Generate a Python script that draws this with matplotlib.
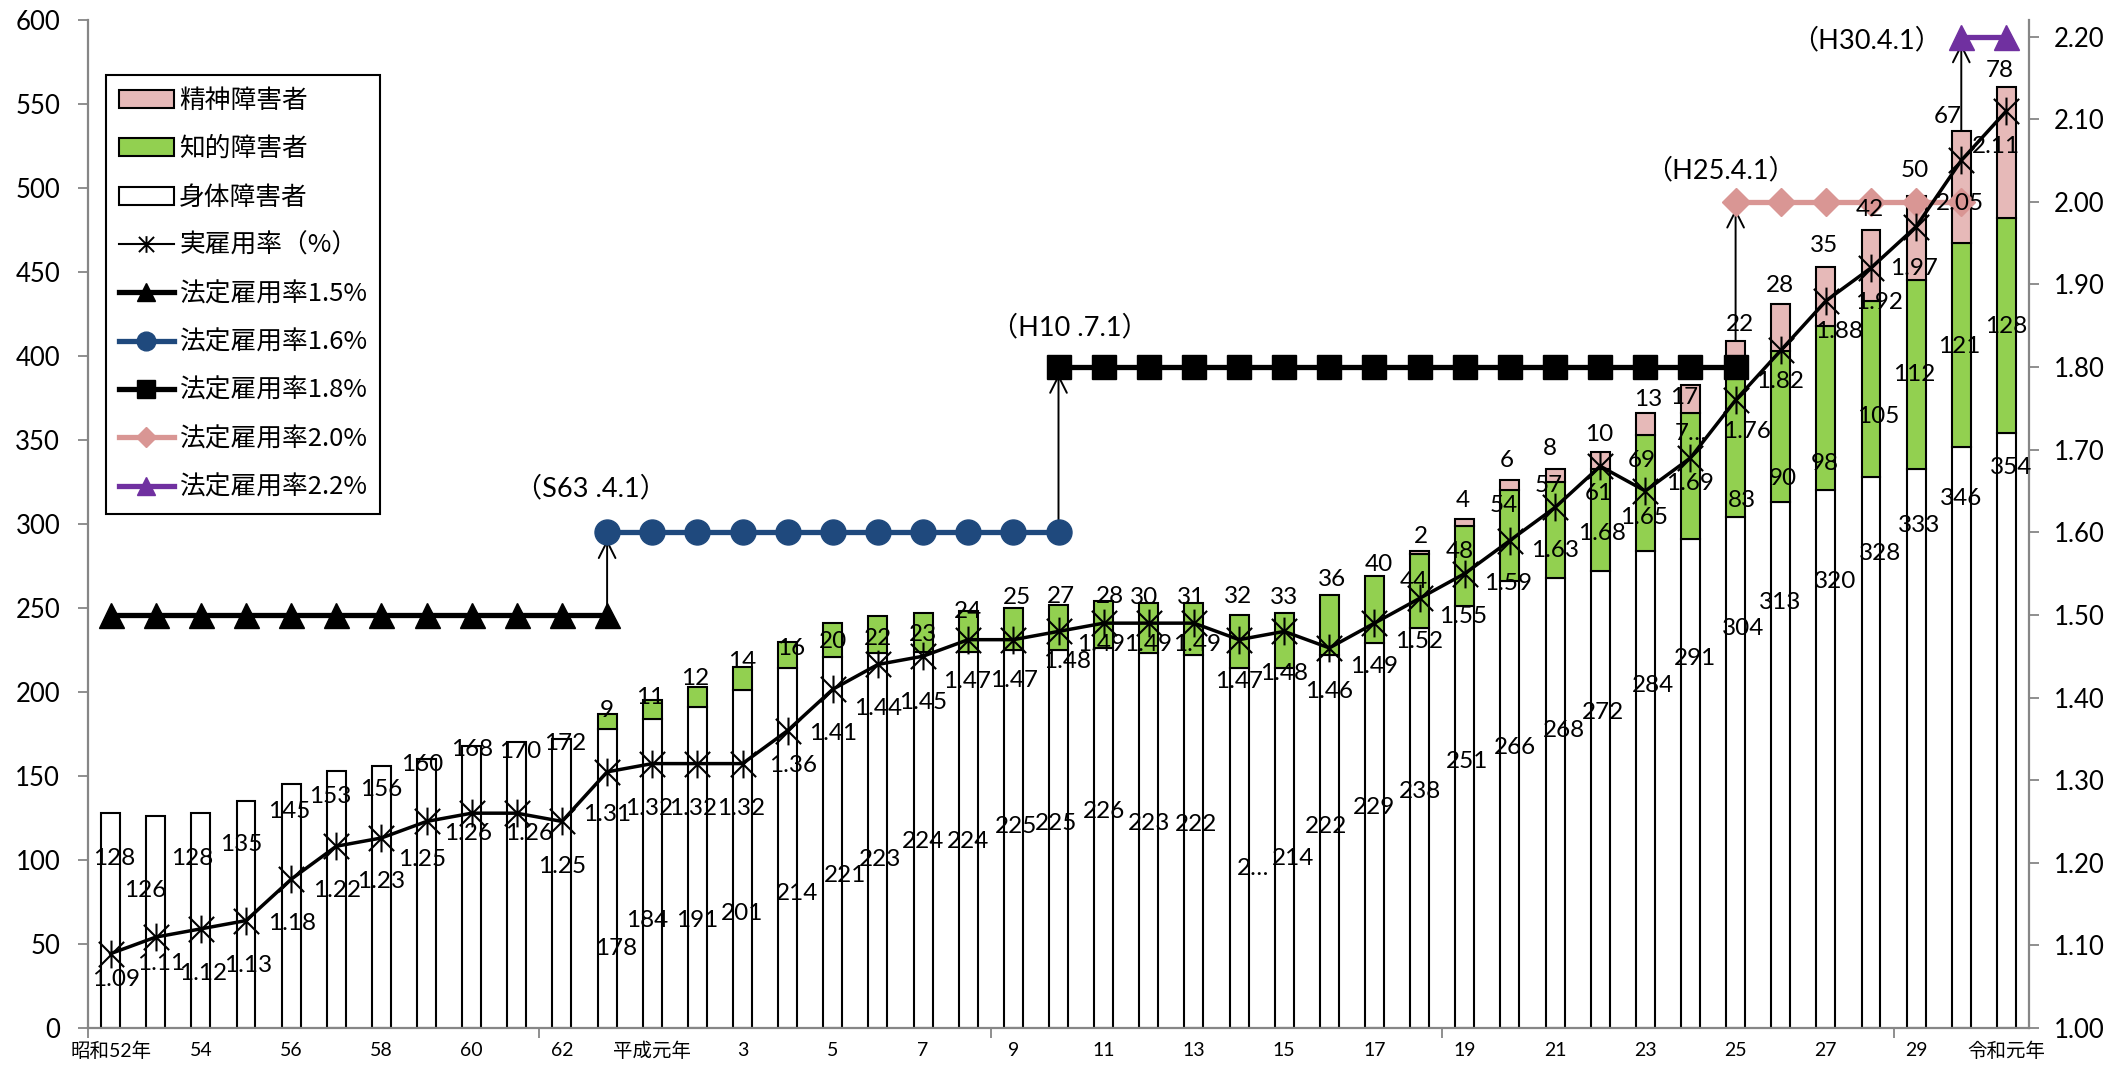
import matplotlib
matplotlib.use("Agg")
import matplotlib.pyplot as plt
import numpy as np
from matplotlib.path import Path
from matplotlib.lines import Line2D
from matplotlib.patches import Patch

plt.rcParams['font.family'] = ['Lato', 'Noto Sans CJK JP', 'DejaVu Sans']

# 雇用障害者数（千人）と実雇用率
years = (["昭和52年"] + [str(y) for y in range(53, 64)]
         + ["平成元年"] + [str(y) for y in range(2, 31)] + ["令和元年"])
body = [128, 126, 128, 135, 145, 153, 156, 160, 168, 170, 172,
        178, 184, 191, 201, 214, 221, 223, 224, 224, 225, 225, 226, 223, 222,
        214, 214, 222, 229, 238, 251, 266, 268, 272, 284, 291, 304, 313, 320,
        328, 333, 346, 354]
intellect = [0] * 11 + [9, 11, 12, 14, 16, 20, 22, 23, 24, 25, 27, 28, 30, 31,
                        32, 33, 36, 40, 44, 48, 54, 57, 61, 69, 75, 83, 90, 98,
                        105, 112, 121, 128]
mental = [0] * 29 + [2, 4, 6, 8, 10, 13, 17, 22, 28, 35, 42, 50, 67, 78]
rate = [1.09, 1.11, 1.12, 1.13, 1.18, 1.22, 1.23, 1.25, 1.26, 1.26, 1.25,
        1.31, 1.32, 1.32, 1.32, 1.36, 1.41, 1.44, 1.45, 1.47, 1.47, 1.48, 1.49,
        1.49, 1.49, 1.47, 1.48, 1.46, 1.49, 1.52, 1.55, 1.59, 1.63, 1.68, 1.65,
        1.69, 1.76, 1.82, 1.88, 1.92, 1.97, 2.05, 2.11]

# 法定雇用率の推移（開始・終了はカテゴリ番号）
legal_rate = [1.5, 1.6, 1.8, 2.0, 2.2]
legal_start = [0, 11, 21, 36, 41]
legal_end = [11, 21, 36, 41, 42]
legal_names = ["法定雇用率1.5%", "法定雇用率1.6%", "法定雇用率1.8%",
               "法定雇用率2.0%", "法定雇用率2.2%"]
change_dates = ["（S63 .4.1）", "（H10 .7.1）", "（H25.4.1）", "（H30.4.1）"]

# 省略表示されたラベル
short_body = {25: "2…"}
short_intellect = {35: "7…"}

# ラベル位置（左軸の値）と横ずれ（カテゴリ幅単位）
body_lab_y = [101, 82, 101, 109, 129, 138, 142, 157, 165.5, 164.5, 169.4,
              47.4, 64, 64, 68, 80, 91, 100, 111, 111, 120, 122, 129, 122, 121,
              95, 101, 120, 131, 141, 158.5, 167, 177, 188, 204, 220, 238, 253,
              266, 282.5, 299, 315, 333.6]
body_lab_dx = [0.07, -0.24, -0.2, -0.11, -0.04, -0.13, 0, -0.1, 0, 0.07, 0.06,
               0.2, -0.11, 0, 0, 0.2, 0.27, 0.05, 0, 0, 0.06, -0.05, 0, 0, 0.05,
               0.3, 0.2, -0.08, 0, 0, 0.05, 0.12, 0.2, 0.06, 0.17, 0.1, 0.16,
               -0.02, 0.2, 0.2, 0.06, 0, 0.1]
int_lab_y = [189, 197, 208, 218, 226, 230, 232, 234, 248, 256, 257, 257, 256,
             256, 256.7, 256, 266.7, 275.6, 265.7, 283.5, 311, 323, 318, 338,
             354, 314, 327, 336, 364, 388.7, 405.5, 417.5]
int_lab_dx = [0, -0.05, -0.05, 0, 0.08, 0, 0, 0, 0, 0.07, 0.05, 0.14, -0.1,
              -0.07, -0.02, 0, 0.05, 0.09, -0.12, -0.1, -0.14, -0.15, -0.02,
              -0.07, 0, 0.14, 0.04, -0.02, 0.17, -0.04, -0.04, -0.01]
men_lab_y = [292.5, 314, 338, 345, 353, 374, 375, 418.5, 442, 466, 487, 510.7,
             542.5, 570]
men_lab_dx = [0.03, -0.04, -0.06, -0.12, -0.02, 0.07, -0.14, 0.1, -0.02, -0.03,
              -0.03, -0.04, -0.31, -0.15]
rate_lab_y = [28.6, 38.5, 32.5, 37.5, 62.3, 82, 87, 100, 116, 116, 96,
              126.8, 130.8, 130.8, 130.8, 156.5, 175.4, 190.3, 194, 206, 207,
              218, 228, 228, 228, 206, 211, 200, 215, 230, 245, 264.7, 284.5,
              294.4, 304, 324, 355, 384.7, 414.5, 432, 452, 491, 524.6]
rate_lab_dx = [0.12, 0.11, 0.05, 0.04, 0.03, 0.02, 0, -0.1, -0.07, 0.27, 0,
               0, -0.07, -0.1, -0.03, 0.12, 0.01, 0, -0.01, -0.02, 0.02, 0.2,
               -0.06, -0.02, 0.07, 0, 0, 0, -0.01, -0.02, -0.04, -0.04, 0, 0.03,
               -0.03, 0, 0.25, -0.02, 0.29, 0.17, -0.04, -0.03, -0.23]
date_lab_x = [10.65, 21.25, 35.67, 38.9]
date_lab_y = [321, 416.7, 510.7, 588]

PINK = '#E6B9B8'
GREEN = '#92D050'
GRAY = '#868686'
legal_styles = [
    dict(color='black', marker='^', mfc='black', mec='black'),
    dict(color='#1F497D', marker='o', mfc='#1F497D', mec='#1F497D'),
    dict(color='black', marker='s', mfc='black', mec='black'),
    dict(color='#D99694', marker='D', mfc='#D99694', mec='#D99694'),
    dict(color='#7030A0', marker='^', mfc='#7030A0', mec='#7030A0'),
]
legal_ms = [18, 18, 17, 14, 18]

# アスタリスク型マーカー（× と縦線）
star = Path([(-1, -1), (1, 1), (-1, 1), (1, -1), (0, -1.1), (0, 1.1)],
            [Path.MOVETO, Path.LINETO, Path.MOVETO, Path.LINETO,
             Path.MOVETO, Path.LINETO])

x = np.arange(len(years))
body = np.array(body)
intellect = np.array(intellect)
mental = np.array(mental)

fig = plt.figure(figsize=(21.25, 10.65), dpi=100)
ax = fig.add_axes([88 / 2125, 37 / 1065, 1941 / 2125, 1008 / 1065])
ax2 = ax.twinx()

W = 0.42
ax.bar(x, body, W, color='white', edgecolor='black', linewidth=1.5, zorder=2)
m = intellect > 0
ax.bar(x[m], intellect[m], W, bottom=body[m], color=GREEN, edgecolor='black',
       linewidth=1.5, zorder=2)
m = mental > 0
ax.bar(x[m], mental[m], W, bottom=(body + intellect)[m], color=PINK,
       edgecolor='black', linewidth=1.5, zorder=2)

ax.set_xlim(-0.5, len(years) - 0.5)
ax.set_ylim(0, 600)
ax.set_yticks(np.arange(0, 601, 50))
ax2.set_ylim(1.0, 2.22)
ax2.set_yticks(np.round(np.arange(1.0, 2.21, 0.1), 2))
ax2.set_yticklabels([f"{v:.2f}" for v in np.arange(1.0, 2.21, 0.1)])

# 法定雇用率と改定時の矢印
for i, r in enumerate(legal_rate):
    xs = np.arange(legal_start[i], legal_end[i] + 1)
    ax2.plot(xs, np.full(len(xs), r), lw=3.8, ms=legal_ms[i], zorder=3,
             **legal_styles[i])
for i in range(1, len(legal_rate)):
    xa = legal_start[i]
    ax.annotate('', xy=(xa, legal_rate[i]), xytext=(xa, legal_rate[i - 1]),
                xycoords=ax2.transData, textcoords=ax2.transData,
                arrowprops=dict(arrowstyle='->,head_length=0.6,head_width=0.3',
                                color='black', lw=1.4, shrinkA=0, shrinkB=5,
                                mutation_scale=20),
                zorder=1.5)
    ax2.text(date_lab_x[i - 1], date_lab_y[i - 1], change_dates[i - 1],
             transform=ax.transData, ha='center', va='center', fontsize=19.5,
             zorder=6)

# 実雇用率
ax2.plot(x, rate, color='black', lw=2.5, marker=star, ms=20, mew=1.5,
         mfc='none', mec='black', zorder=4)

# データラベル
lab_kw = dict(transform=ax.transData, ha='center', va='center', fontsize=17.5,
              zorder=7)
for i in x:
    ax2.text(i + body_lab_dx[i], body_lab_y[i], short_body.get(i, str(body[i])),
             **lab_kw)
    ax2.text(i + rate_lab_dx[i], rate_lab_y[i], f"{rate[i]:.2f}", **lab_kw)
k = 0
for i in x[intellect > 0]:
    ax2.text(i + int_lab_dx[k], int_lab_y[k],
             short_intellect.get(i, str(intellect[i])), **lab_kw)
    k += 1
k = 0
for i in x[mental > 0]:
    ax2.text(i + men_lab_dx[k], men_lab_y[k], str(mental[i]), **lab_kw)
    k += 1

# 軸の体裁
for a in (ax, ax2):
    a.spines['top'].set_visible(False)
    for s in ('left', 'right', 'bottom'):
        a.spines[s].set_color(GRAY)
        a.spines[s].set_linewidth(1.6)
ax.spines['right'].set_visible(False)
ax2.spines['left'].set_visible(False)
ax2.spines['bottom'].set_visible(False)

ax.tick_params(axis='y', direction='out', length=7, width=1.3, color=GRAY,
               labelsize=18.5, pad=13)
ax2.tick_params(axis='y', direction='out', length=7, width=1.3, color=GRAY,
                labelsize=18.5, pad=11)
ax.set_xticks(x[::2])
ax.set_xticklabels(years[::2])
ax.set_xticks(np.arange(-0.5, len(years), 10), minor=True)
ax.tick_params(axis='x', which='major', length=0, labelsize=14, pad=10)
ax.tick_params(axis='x', which='minor', direction='out', length=7, width=1.3,
               color=GRAY)

handles = [
    Patch(facecolor=PINK, edgecolor='black', linewidth=1.5),
    Patch(facecolor=GREEN, edgecolor='black', linewidth=1.5),
    Patch(facecolor='white', edgecolor='black', linewidth=1.5),
    Line2D([], [], color='black', lw=1.5, marker=star, ms=12, mew=1.4,
           mfc='none', mec='black'),
]
for i in range(len(legal_rate)):
    handles.append(Line2D([], [], lw=3.8, ms=legal_ms[i] * 0.75,
                          **legal_styles[i]))
labels = ["精神障害者", "知的障害者", "身体障害者", "実雇用率（%）"] + legal_names
leg = ax2.legend(handles, labels, loc='upper left',
                 bbox_to_anchor=(18 / 1941, 953 / 1008), borderaxespad=0,
                 frameon=True, fancybox=False, edgecolor='black', framealpha=1,
                 prop=dict(family=['Noto Sans CJK JP', 'DejaVu Sans'], size=18.5),
                 handlelength=2.15, handletextpad=0.2, labelspacing=0.87,
                 borderpad=0.5)
leg.get_frame().set_linewidth(1.5)
leg.set_zorder(8)

fig.savefig("out.png", dpi=100)
